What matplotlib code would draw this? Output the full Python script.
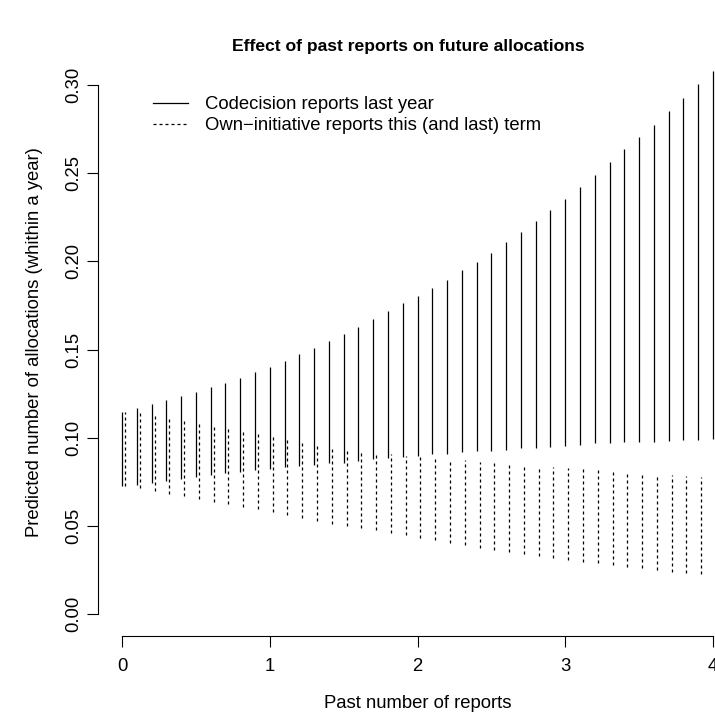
import matplotlib.pyplot as plt
from matplotlib.lines import Line2D

plt.rcParams['font.family'] = ['Liberation Sans', 'DejaVu Sans']

# past number of reports (x grid), 0 .. 4 in steps of 0.1
reports = [0.0, 0.1, 0.2, 0.3, 0.4, 0.5, 0.6, 0.7, 0.8, 0.9,
           1.0, 1.1, 1.2, 1.3, 1.4, 1.5, 1.6, 1.7, 1.8, 1.9,
           2.0, 2.1, 2.2, 2.3, 2.4, 2.5, 2.6, 2.7, 2.8, 2.9,
           3.0, 3.1, 3.2, 3.3, 3.4, 3.5, 3.6, 3.7, 3.8, 3.9, 4.0]

# codecision reports last year: interval bounds
cod_lo = [0.0726, 0.0735, 0.0745, 0.0756, 0.0767, 0.0779, 0.0788, 0.0798, 0.0807, 0.0817,
          0.0824, 0.0834, 0.0841, 0.0847, 0.0855, 0.0860, 0.0869, 0.0881, 0.0886, 0.0892,
          0.0898, 0.0906, 0.0911, 0.0919, 0.0924, 0.0928, 0.0932, 0.0940, 0.0945, 0.0949,
          0.0954, 0.0961, 0.0968, 0.0972, 0.0974, 0.0977, 0.0979, 0.0983, 0.0985, 0.0987, 0.0991]
cod_hi = [0.1147, 0.1168, 0.1189, 0.1212, 0.1235, 0.1259, 0.1286, 0.1312, 0.1340, 0.1372,
          0.1403, 0.1435, 0.1473, 0.1510, 0.1550, 0.1590, 0.1629, 0.1673, 0.1717, 0.1762,
          0.1802, 0.1849, 0.1894, 0.1949, 0.1996, 0.2049, 0.2108, 0.2165, 0.2231, 0.2291,
          0.2354, 0.2422, 0.2490, 0.2562, 0.2635, 0.2705, 0.2775, 0.2849, 0.2926, 0.3004, 0.3079]

# own-initiative reports this (and last) term: interval bounds
own_lo = [0.0726, 0.0713, 0.0699, 0.0684, 0.0669, 0.0656, 0.0639, 0.0626, 0.0609, 0.0594,
          0.0578, 0.0561, 0.0548, 0.0531, 0.0514, 0.0501, 0.0490, 0.0476, 0.0459, 0.0448,
          0.0435, 0.0420, 0.0404, 0.0390, 0.0378, 0.0367, 0.0353, 0.0342, 0.0331, 0.0321,
          0.0310, 0.0299, 0.0288, 0.0278, 0.0270, 0.0261, 0.0251, 0.0242, 0.0234, 0.0227, 0.0220]
own_hi = [0.1147, 0.1138, 0.1123, 0.1108, 0.1093, 0.1078, 0.1063, 0.1049, 0.1034, 0.1019,
          0.1004, 0.0988, 0.0973, 0.0958, 0.0943, 0.0930, 0.0920, 0.0913, 0.0906, 0.0898,
          0.0891, 0.0885, 0.0878, 0.0872, 0.0865, 0.0858, 0.0852, 0.0846, 0.0840, 0.0833,
          0.0827, 0.0821, 0.0815, 0.0809, 0.0804, 0.0799, 0.0794, 0.0789, 0.0784, 0.0779, 0.0774]

xticks = [0, 1, 2, 3, 4]
yticks = [0.00, 0.05, 0.10, 0.15, 0.20, 0.25, 0.30]

W, H = 715, 726
fig = plt.figure(figsize=(W / 100, H / 100), dpi=100)
# plot region runs past the right edge of the picture, like the cropped original
left, right, bottom, top = 98.4, 736.6, 636, 49
ax = fig.add_axes([left / W, (H - bottom) / H, (right - left) / W, (bottom - top) / H])

offset = 0.02
ax.vlines(reports, cod_lo, cod_hi, colors='black', linewidth=0.9)
ax.vlines([r + offset for r in reports], own_lo, own_hi, colors='black',
          linewidth=0.9, linestyles=[(0, (2.4, 2.4))])

ax.set_xlim(-0.16, 4.16)
ax.set_ylim(-0.0123, 0.3203)

fs = 13.3
for s in ['top', 'right']:
    ax.spines[s].set_visible(False)
ax.spines['bottom'].set_bounds(0, 4)
ax.spines['left'].set_bounds(0, 0.30)
for s in ['bottom', 'left']:
    ax.spines[s].set_linewidth(0.8)
ax.set_xticks(xticks)
ax.set_xticklabels([str(t) for t in xticks])
ax.set_yticks(yticks)
ax.set_yticklabels(['%.2f' % t for t in yticks], rotation=90, va='center')
ax.tick_params(direction='out', length=7.6, width=0.8, labelsize=fs)
ax.tick_params(axis='x', pad=8)
ax.tick_params(axis='y', pad=4)

ax.set_xlabel('Past number of reports', fontsize=fs, labelpad=14.5)
ax.set_ylabel('Predicted number of allocations (whithin a year)', fontsize=fs, labelpad=16)
fig.text(408 / W, 1 - 47 / H, 'Effect of past reports on future allocations',
         fontsize=12.6, fontweight='bold', ha='center', va='center')

handles = [Line2D([], [], color='black', linewidth=0.9),
           Line2D([], [], color='black', linewidth=0.9, linestyle=(0, (2.4, 2.4)))]
ax.legend(handles, ['Codecision reports last year',
                    'Own\u2212initiative reports this (and last) term'],
          loc='upper left', bbox_to_anchor=(153 / W, 1 - 96 / H),
          bbox_transform=fig.transFigure, frameon=False, fontsize=fs,
          handlelength=1.9, handletextpad=0.9, labelspacing=0.22,
          borderpad=0, borderaxespad=0)

fig.savefig('out.png', dpi=100)
